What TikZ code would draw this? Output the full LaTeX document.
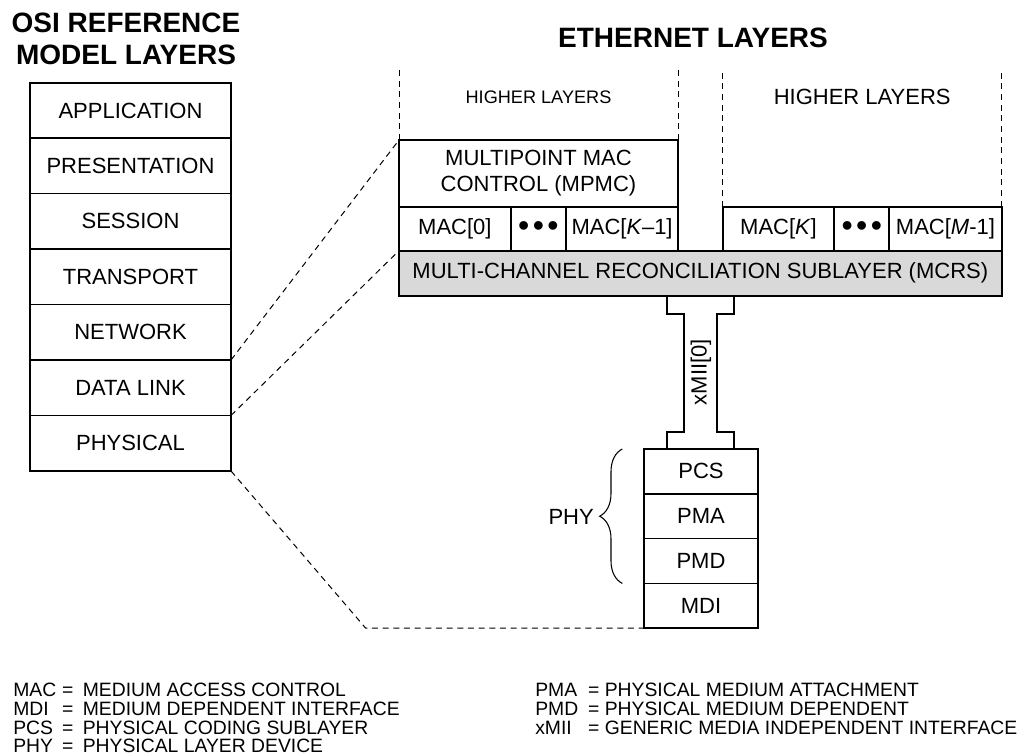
\documentclass[tikz,border=0pt]{standalone}
\usepackage{fontspec}
\setmainfont{Liberation Sans}
\usetikzlibrary{positioning,decorations.pathreplacing}

\newcommand{\boxfont}{\fontsize{16.5}{19.5}\selectfont}
\newcommand{\smallboxfont}{\fontsize{13.6}{16}\selectfont}
\newcommand{\titlefont}{\bfseries\fontsize{21}{24}\selectfont}
\newcommand{\legendfont}{\fontsize{14.5}{13.2}\selectfont}
\newcommand{\threedots}{{\fontsize{24}{24}\selectfont\textbullet\hspace{2.6pt}\textbullet\hspace{2.6pt}\textbullet}}
\definecolor{mcrsgray}{HTML}{D9D9D9}

\tikzset{
  layer/.style={draw, line width=1.3pt, inner sep=0pt, outer sep=0pt, font=\boxfont, align=center},
  osilayer/.style={layer, minimum width=150.75pt, minimum height=41.6pt},
  macbox/.style={layer, minimum width=83.8pt, minimum height=33pt},
  dotbox/.style={layer, minimum width=41.5pt, minimum height=33pt},
  phylayer/.style={layer, minimum width=85pt, minimum height=33.6pt},
  guide/.style={line width=0.75pt, dash pattern=on 4.5pt off 3.5pt},
  phybrace/.style={decorate, decoration={brace, amplitude=17pt}, line width=0.8pt},
}

\begin{document}
\begin{tikzpicture}[x=0.75pt, y=-0.75pt]
    \useasboundingbox (0,0) rectangle (1018,755);

    % titles
    \node[font=\titlefont, align=center, anchor=north, inner sep=0pt] (osititle) at (126,13) {OSI REFERENCE\\MODEL LAYERS};
    \node[font=\titlefont, inner sep=0pt] (ethtitle) at (693,38) {ETHERNET LAYERS};

    % OSI stack
    \node[osilayer, anchor=north west] (app) at (30,82.7) {APPLICATION};
    \node[osilayer, below=0pt of app] (pres) {PRESENTATION};
    \node[osilayer, below=0pt of pres] (sess) {SESSION};
    \node[osilayer, below=0pt of sess] (trans) {TRANSPORT};
    \node[osilayer, below=0pt of trans] (net) {NETWORK};
    \node[osilayer, below=0pt of net] (dl) {DATA LINK};
    \node[osilayer, below=0pt of dl] (phys) {PHYSICAL};

    % ethernet layers
    \node[layer, anchor=north west, minimum width=209.25pt, minimum height=50pt] (mpmc) at (399,140) {MULTIPOINT MAC\\CONTROL (MPMC)};
    \node[macbox, anchor=north west] (mac0) at (mpmc.south west) {MAC[0]};
    \node[dotbox, right=0pt of mac0] (dotsa) {\threedots};
    \node[macbox, right=0pt of dotsa, minimum width=84pt] (mackm) {MAC[\textit{K}--1]};
    \node[layer, fill=mcrsgray, anchor=north west, minimum width=452pt, minimum height=33.75pt] (mcrs) at (mac0.south west) {MULTI-CHANNEL RECONCILIATION SUBLAYER (MCRS)};
    \node[macbox, anchor=south east, minimum width=84.3pt] (macm) at (mcrs.north east) {MAC[\textit{M}-1]};
    \node[dotbox, left=0pt of macm, minimum width=41.25pt] (dotsb) {\threedots};
    \node[macbox, left=0pt of dotsb, minimum width=83.7pt] (mack) {MAC[\textit{K}]};

    \node[font=\smallboxfont] (hla) at (538.5,97) {HIGHER LAYERS};
    \node[font=\boxfont] (hlb) at (862.2,97) {HIGHER LAYERS};

    \coordinate (top) at (0,68);
    \draw[guide] (mpmc.north west) -- (mpmc.north west |- top);
    \draw[guide] (mpmc.north east) -- (mpmc.north east |- top);
    \draw[guide] (mack.north west) -- (mack.north west |- top);
    \draw[guide] (macm.north east) -- (macm.north east |- top);

    % PHY stack
    \node[phylayer, anchor=north] (pcs) at (701,449) {PCS};
    \node[phylayer, below=0pt of pcs] (pma) {PMA};
    \node[phylayer, below=0pt of pma] (pmd) {PMD};
    \node[phylayer, below=0pt of pmd] (mdi) {MDI};

    % xMII
    \draw[line width=1.3pt] (666.7,295.7) -- (666.7,314) -- (684.3,314) -- (684.3,432.3) -- (666.7,432.3) -- (666.7,449);
    \draw[line width=1.3pt] (734.3,295.7) -- (734.3,314) -- (716.7,314) -- (716.7,432.3) -- (734.3,432.3) -- (734.3,449);
    \node[font=\boxfont, rotate=90] (xmii) at (701,372) {xMII[0]};

    \draw[phybrace] ([xshift=-16.5pt]pmd.south west) -- ([xshift=-16.5pt]pcs.north west);
    \node[font=\boxfont, anchor=east, inner sep=0pt] (phy) at (594,517) {PHY};

    % mapping lines
    \coordinate (bend) at (365.7,628.2);
    \draw[guide] (dl.north east) -- (mpmc.north west);
    \draw[guide] (phys.north east) -- (mcrs.north west);
    \draw[guide] (phys.south east) -- (bend) -- (mdi.south west);

    % legend
    \node[anchor=north west, inner sep=0pt, font=\legendfont] (legl) at (13,682.7) {%
      \begin{tabular}{@{}l@{\hspace{4.5pt}}l@{\hspace{7pt}}l@{}}
        MAC & = & MEDIUM ACCESS CONTROL\\
        MDI & = & MEDIUM DEPENDENT INTERFACE\\
        PCS & = & PHYSICAL CODING SUBLAYER\\
        PHY & = & PHYSICAL LAYER DEVICE
      \end{tabular}};
    \node[anchor=north west, inner sep=0pt, font=\legendfont] (legr) at (535,682.7) {%
      \begin{tabular}{@{}l@{\hspace{7.5pt}}l@{\hspace{4pt}}l@{}}
        PMA & = & PHYSICAL MEDIUM ATTACHMENT\\
        PMD & = & PHYSICAL MEDIUM DEPENDENT\\
        xMII & = & GENERIC MEDIA INDEPENDENT INTERFACE
      \end{tabular}};
\end{tikzpicture}
\end{document}
